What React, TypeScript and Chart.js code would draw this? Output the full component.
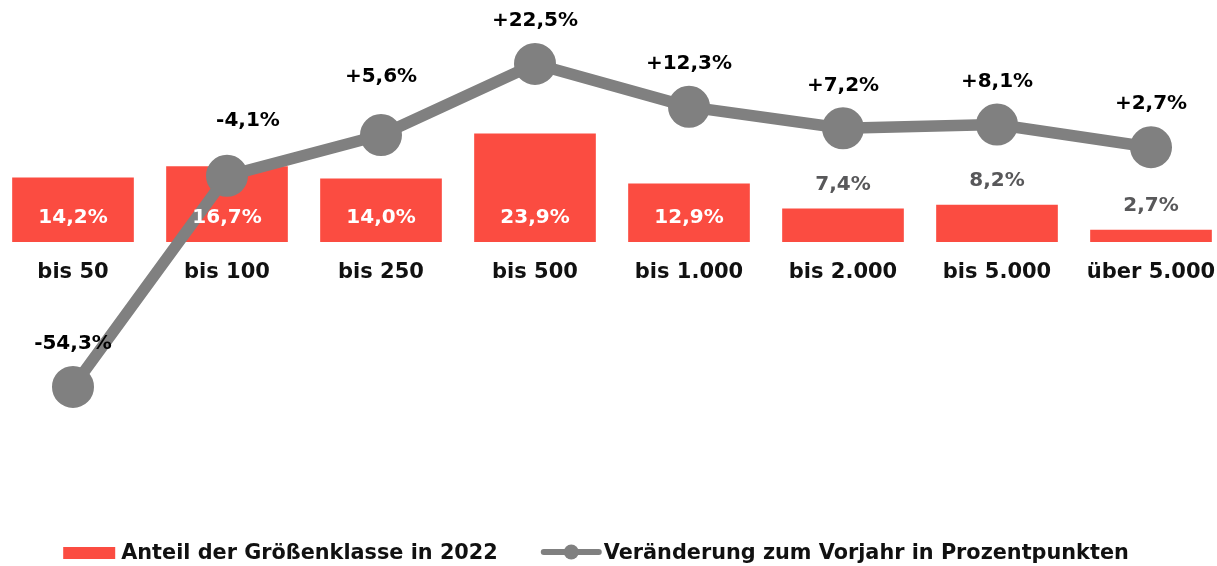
import React, { useEffect, useRef } from "react";
import { Chart, registerables } from "chart.js";

Chart.register(...registerables);

// ---------- data ----------
const categories = ["bis 50", "bis 100", "bis 250", "bis 500", "bis 1.000", "bis 2.000", "bis 5.000", "über 5.000"];
const shareValues = [14.2, 16.7, 14.0, 23.9, 12.9, 7.4, 8.2, 2.7];
const changeValues = [-54.3, -4.1, 5.6, 22.5, 12.3, 7.2, 8.1, 2.7];
const shareLabel = "Anteil der Größenklasse in 2022";
const changeLabel = "Veränderung zum Vorjahr in Prozentpunkten";

// ---------- style ----------
const RED = "#FB4C41";
const GRAY = "#808080";
const TEXT_DARK = "#111111";
const TEXT_GRAY = "#58585A";
const FONT = "'DejaVu Sans', sans-serif";

const CANVAS_W = 1232;
const CANVAS_H = 566;
const SHIFT_X = -4;

// axis geometry (pixel position of zero and pixels per unit)
const BAR_ZERO = 242;
const BAR_PX = 4.54;
const LINE_ZERO = 158.6;
const LINE_PX = 4.2057;

const fmt = (v: number) => v.toFixed(1).replace(".", ",") + "%";
const fmtChange = (v: number) => (v > 0 ? "+" : "") + fmt(v);

const LINE_LABEL_DEFAULT: [number, number] = [0, -43];
const LINE_LABEL_NUDGE: Record<number, [number, number]> = { 1: [21, -55.5], 2: [0, -58.5] };

const valueLabelsPlugin = {
  id: "valueLabels",
  afterDatasetsDraw(chart: any) {
    const ctx = chart.ctx as CanvasRenderingContext2D;
    ctx.save();
    ctx.font = `bold 20px ${FONT}`;
    ctx.textAlign = "center";
    ctx.textBaseline = "middle";

    const lineMeta = chart.getDatasetMeta(1);
    const lineData = chart.data.datasets[1].data as number[];
    lineMeta.data.forEach((pt: any, i: number) => {
      const [dx, dy] = LINE_LABEL_NUDGE[i] || LINE_LABEL_DEFAULT;
      ctx.fillStyle = "#000000";
      ctx.fillText(fmtChange(lineData[i]), pt.x + dx, pt.y + dy);
    });

    const barMeta = chart.getDatasetMeta(0);
    const barData = chart.data.datasets[0].data as number[];
    const zero = chart.scales.y.getPixelForValue(0);
    barMeta.data.forEach((bar: any, i: number) => {
      const v = barData[i];
      if (v >= 10) {
        ctx.fillStyle = "#FFFFFF";
        ctx.fillText(fmt(v), bar.x, zero - 24);
      } else {
        ctx.fillStyle = TEXT_GRAY;
        ctx.fillText(fmt(v), bar.x, bar.y - 23.6);
      }
    });
    ctx.restore();
  },
};

const legendPlugin = {
  id: "customLegend",
  afterDraw(chart: any) {
    const ctx = chart.ctx as CanvasRenderingContext2D;
    const t1 = chart.data.datasets[0].label as string;
    const t2 = chart.data.datasets[1].label as string;
    ctx.save();
    ctx.font = `bold 20.8px ${FONT}`;
    const w1 = ctx.measureText(t1).width;
    const w2 = ctx.measureText(t2).width;
    const rectW = 52;
    const gap1 = 6;
    const gapItems = 43;
    const iconW = 61;
    const gap2 = 2;
    const total = rectW + gap1 + w1 + gapItems + iconW + gap2 + w2;
    const center = 596 - SHIFT_X;
    let x = center - total / 2;
    ctx.fillStyle = RED;
    ctx.fillRect(x, 547, rectW, 12);
    x += rectW + gap1;
    ctx.fillStyle = TEXT_DARK;
    ctx.textAlign = "left";
    ctx.textBaseline = "alphabetic";
    ctx.fillText(t1, x, 559);
    x += w1 + gapItems;
    ctx.strokeStyle = GRAY;
    ctx.lineWidth = 6;
    ctx.lineCap = "round";
    ctx.beginPath();
    ctx.moveTo(x + 3, 552);
    ctx.lineTo(x + iconW - 3, 552);
    ctx.stroke();
    ctx.fillStyle = GRAY;
    ctx.beginPath();
    ctx.arc(x + iconW / 2, 552, 7.5, 0, Math.PI * 2);
    ctx.fill();
    x += iconW + gap2;
    ctx.fillStyle = TEXT_DARK;
    ctx.fillText(t2, x, 559);
    ctx.restore();
  },
};

export default function App() {
  const canvasRef = useRef<HTMLCanvasElement | null>(null);

  useEffect(() => {
    const canvas = canvasRef.current;
    if (!canvas) return;
    const chart = new Chart(canvas, {
      type: "bar",
      data: {
        labels: categories,
        datasets: [
          {
            type: "bar",
            label: shareLabel,
            data: shareValues,
            backgroundColor: RED,
            borderWidth: 0,
            yAxisID: "y",
            order: 1,
            barPercentage: 0.79,
            categoryPercentage: 1,
          },
          {
            type: "line",
            label: changeLabel,
            data: changeValues,
            yAxisID: "y1",
            order: 0,
            borderColor: GRAY,
            backgroundColor: GRAY,
            borderWidth: 11.5,
            borderJoinStyle: "round",
            pointRadius: 20,
            pointBorderWidth: 2,
            pointBackgroundColor: GRAY,
            pointBorderColor: GRAY,
            tension: 0,
            fill: false,
            clip: false,
          } as any,
        ],
      },
      options: {
        responsive: false,
        animation: false,
        devicePixelRatio: 1,
        layout: { padding: 0, autoPadding: false },
        plugins: {
          legend: { display: false },
          tooltip: { enabled: false },
          title: { display: false },
        },
        scales: {
          x: {
            position: { y: 0 } as any,
            grid: { display: false, drawTicks: true, tickLength: 18 },
            border: { display: false },
            ticks: {
              color: TEXT_DARK,
              font: { family: FONT, size: 21, weight: "bold" },
              padding: 0,
              maxRotation: 0,
              autoSkip: false,
            },
          },
          y: {
            display: false,
            min: -(CANVAS_H - BAR_ZERO) / BAR_PX,
            max: BAR_ZERO / BAR_PX,
          },
          y1: {
            display: false,
            min: -(CANVAS_H - LINE_ZERO) / LINE_PX,
            max: LINE_ZERO / LINE_PX,
          },
        },
      } as any,
      plugins: [valueLabelsPlugin, legendPlugin],
    });
    return () => chart.destroy();
  }, []);

  return (
    <div
      style={{
        position: "fixed",
        left: 0,
        top: 0,
        width: 1217,
        height: 566,
        overflow: "hidden",
        background: "#ffffff",
      }}
    >
      <div style={{ position: "absolute", left: SHIFT_X, top: 0, width: CANVAS_W, height: CANVAS_H }}>
        <canvas
          ref={canvasRef}
          width={CANVAS_W}
          height={CANVAS_H}
          style={{ display: "block", width: CANVAS_W, height: CANVAS_H }}
        />
      </div>
    </div>
  );
}
